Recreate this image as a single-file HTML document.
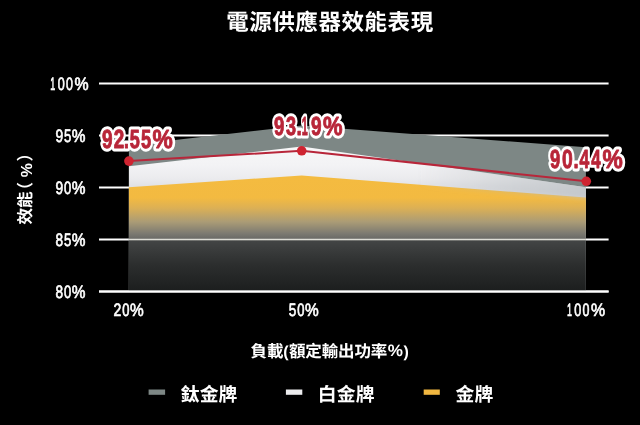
<!DOCTYPE html>
<html lang="zh-Hant">
<head>
<meta charset="utf-8">
<title>電源供應器效能表現</title>
<style>
html,body{margin:0;padding:0;background:#000;}
body{width:640px;height:425px;position:relative;overflow:hidden;font-family:"Liberation Sans",sans-serif;}
.t{position:absolute;color:transparent;white-space:nowrap;font-family:"Liberation Sans",sans-serif;font-weight:bold;line-height:1;margin:0;overflow:hidden;}
</style>
</head>
<body>
<svg width="640" height="425" viewBox="0 0 640 425" style="position:absolute;left:0;top:0;will-change:transform;text-rendering:geometricPrecision">
<defs>
<linearGradient id="gGold" gradientUnits="userSpaceOnUse" x1="0" y1="176" x2="0" y2="291">
<stop offset="0" stop-color="#f4bb40"/>
<stop offset="0.19" stop-color="#f3ba41"/>
<stop offset="0.278" stop-color="#dcb055"/>
<stop offset="0.40" stop-color="#aa9b76"/>
<stop offset="0.50" stop-color="#7c7a71"/>
<stop offset="0.545" stop-color="#6a6a66"/>
<stop offset="0.568" stop-color="#424444"/>
<stop offset="0.771" stop-color="#2c2e2e"/>
<stop offset="1" stop-color="#1c1e1e"/>
</linearGradient>
<linearGradient id="gWhite" gradientUnits="userSpaceOnUse" x1="0" y1="146" x2="0" y2="200">
<stop offset="0" stop-color="#f7f7f8"/>
<stop offset="0.35" stop-color="#f3f3f5"/>
<stop offset="0.6" stop-color="#ebebee"/>
<stop offset="0.78" stop-color="#dedfe3"/>
<stop offset="1" stop-color="#cfd1d6"/>
</linearGradient>
<linearGradient id="gWhiteSh" gradientUnits="userSpaceOnUse" x1="420" y1="0" x2="590" y2="0">
<stop offset="0" stop-color="#b4babd" stop-opacity="0"/>
<stop offset="0.5" stop-color="#b4babd" stop-opacity="0.35"/>
<stop offset="1" stop-color="#bcc1c4" stop-opacity="0.72"/>
</linearGradient>
<filter id="fBlur" x="-10%" y="-50%" width="120%" height="200%"><feGaussianBlur stdDeviation="2.6"/></filter>
</defs>
<rect width="640" height="425" fill="#000"/>
<line x1="99.0" x2="608.6" y1="83.50" y2="83.50" stroke="#fff" stroke-width="2"/>
<line x1="99.0" x2="608.6" y1="135.50" y2="135.50" stroke="#fff" stroke-width="2"/>
<line x1="99.0" x2="608.6" y1="187.50" y2="187.50" stroke="#fff" stroke-width="2"/>
<line x1="99.0" x2="608.6" y1="239.50" y2="239.50" stroke="#fff" stroke-width="2"/>
<line x1="99.0" x2="608.6" y1="291.50" y2="291.50" stroke="#fff" stroke-width="2"/>
<polygon points="128.9,145.3 301.7,125.6 585.9,147.2 585.9,290.60 128.9,290.60" fill="#7d8785"/>
<polygon points="128.9,166.3 301.7,146.5 585.9,187.2 585.9,290.60 128.9,290.60" fill="url(#gWhite)"/>
<polygon points="128.9,187.3 301.7,175.5 585.9,197.6 585.9,290.60 128.9,290.60" fill="url(#gGold)"/>
<clipPath id="cW"><polygon points="128.9,166.3 301.7,146.5 585.9,187.2 585.9,290.60 128.9,290.60"/></clipPath>
<g clip-path="url(#cW)"><polygon filter="url(#fBlur)" points="301.7,140.50 597.9,181.20 597.9,199.10 301.7,177.00" fill="url(#gWhiteSh)"/></g>
<line x1="128.9" x2="585.9" y1="239.50" y2="239.50" stroke="#deded6" stroke-width="1.7"/>
<line x1="99.0" x2="608.6" y1="291.50" y2="291.50" stroke="#fff" stroke-width="2.1"/>
<polyline points="128.9,161.1 301.7,150.8 586.3,181.3" fill="none" stroke="#b8263a" stroke-width="2"/>
<circle cx="128.9" cy="161.1" r="4.8" fill="#cf2431"/>
<circle cx="301.7" cy="150.8" r="4.8" fill="#cf2431"/>
<circle cx="586.3" cy="181.3" r="4.8" fill="#cf2431"/>
<text x="226.15" y="30.10" font-family="'Liberation Sans', 'Noto Sans CJK TC', sans-serif" font-size="22.5" font-weight="bold" fill="#fff" textLength="207" lengthAdjust="spacing">電源供應器效能表現</text>
<text x="250.40" y="356.70" font-family="'Liberation Sans', 'Noto Sans CJK TC', sans-serif" font-size="16.5" font-weight="bold" fill="#fff">負載</text>
<text x="283.2" y="356.70" font-family="'Liberation Sans', 'Noto Sans CJK TC', sans-serif" font-size="16" font-weight="bold" fill="#fff">(</text>
<text x="288.90" y="356.70" font-family="'Liberation Sans', 'Noto Sans CJK TC', sans-serif" font-size="16.5" font-weight="bold" fill="#fff" textLength="98.4" lengthAdjust="spacing">額定輸出功率</text>
<text x="387.80" y="356.40" font-family="'Liberation Sans', 'Noto Sans CJK TC', sans-serif" font-size="16.5" font-weight="bold" fill="#fff" textLength="15.2" lengthAdjust="spacingAndGlyphs">%</text>
<text x="403.60" y="356.70" font-family="'Liberation Sans', 'Noto Sans CJK TC', sans-serif" font-size="16" font-weight="bold" fill="#fff">)</text>
<text x="180.70" y="401.00" font-family="'Liberation Sans', 'Noto Sans CJK TC', sans-serif" font-size="18.8" font-weight="bold" fill="#fff" textLength="56.7" lengthAdjust="spacing">鈦金牌</text>
<text x="317.80" y="401.00" font-family="'Liberation Sans', 'Noto Sans CJK TC', sans-serif" font-size="18.8" font-weight="bold" fill="#fff" textLength="56.7" lengthAdjust="spacing">白金牌</text>
<text x="455.50" y="401.00" font-family="'Liberation Sans', 'Noto Sans CJK TC', sans-serif" font-size="18.8" font-weight="bold" fill="#fff" textLength="37.8" lengthAdjust="spacing">金牌</text>
<g transform="translate(31.4 224.6) rotate(-90)">
<text x="0" y="0" font-family="'Liberation Sans', 'Noto Sans CJK TC', sans-serif" font-size="16.6" font-weight="bold" fill="#fff">效能</text>
<text x="26.2" y="0" font-family="'Liberation Sans', 'Noto Sans CJK TC', sans-serif" font-size="16.6" font-weight="bold" fill="#fff">（</text>
<text x="47.3" y="0.2" font-family="'Liberation Sans', 'Noto Sans CJK TC', sans-serif" font-size="16" font-weight="bold" fill="#fff" textLength="14.2" lengthAdjust="spacingAndGlyphs">%</text>
<text x="63" y="0" font-family="'Liberation Sans', 'Noto Sans CJK TC', sans-serif" font-size="16.6" font-weight="bold" fill="#fff">）</text>
</g>
<rect x="148.6" y="389.5" width="16.5" height="5.3" fill="#7d8785"/>
<rect x="285.9" y="389.5" width="16.4" height="5.3" fill="#ececee"/>
<rect x="423.7" y="389.5" width="16.1" height="5.3" fill="#f1b741"/>
<text y="90.10" font-family="Liberation Sans, sans-serif" font-size="18.0" font-weight="normal" fill="#fff" stroke="#fff" stroke-width="0.7" stroke-linejoin="round" paint-order="stroke"><tspan x="50.36" textLength="5.03" lengthAdjust="spacingAndGlyphs">1</tspan><tspan x="57.66" textLength="6.98" lengthAdjust="spacingAndGlyphs">0</tspan><tspan x="65.91" textLength="6.92" lengthAdjust="spacingAndGlyphs">0</tspan><tspan x="74.48" textLength="14.13" lengthAdjust="spacingAndGlyphs">%</tspan></text>
<text y="142.00" font-family="Liberation Sans, sans-serif" font-size="18.0" font-weight="normal" fill="#fff" stroke="#fff" stroke-width="0.7" stroke-linejoin="round" paint-order="stroke"><tspan x="55.40" textLength="7.71" lengthAdjust="spacingAndGlyphs">9</tspan><tspan x="64.03" textLength="7.27" lengthAdjust="spacingAndGlyphs">5</tspan><tspan x="71.70" textLength="13.70" lengthAdjust="spacingAndGlyphs">%</tspan></text>
<text y="194.00" font-family="Liberation Sans, sans-serif" font-size="18.0" font-weight="normal" fill="#fff" stroke="#fff" stroke-width="0.7" stroke-linejoin="round" paint-order="stroke"><tspan x="55.40" textLength="7.71" lengthAdjust="spacingAndGlyphs">9</tspan><tspan x="64.04" textLength="7.21" lengthAdjust="spacingAndGlyphs">0</tspan><tspan x="71.70" textLength="13.70" lengthAdjust="spacingAndGlyphs">%</tspan></text>
<text y="246.00" font-family="Liberation Sans, sans-serif" font-size="18.0" font-weight="normal" fill="#fff" stroke="#fff" stroke-width="0.7" stroke-linejoin="round" paint-order="stroke"><tspan x="55.46" textLength="7.59" lengthAdjust="spacingAndGlyphs">8</tspan><tspan x="64.03" textLength="7.27" lengthAdjust="spacingAndGlyphs">5</tspan><tspan x="71.70" textLength="13.70" lengthAdjust="spacingAndGlyphs">%</tspan></text>
<text y="298.00" font-family="Liberation Sans, sans-serif" font-size="18.0" font-weight="normal" fill="#fff" stroke="#fff" stroke-width="0.7" stroke-linejoin="round" paint-order="stroke"><tspan x="55.46" textLength="7.59" lengthAdjust="spacingAndGlyphs">8</tspan><tspan x="64.04" textLength="7.21" lengthAdjust="spacingAndGlyphs">0</tspan><tspan x="71.70" textLength="13.70" lengthAdjust="spacingAndGlyphs">%</tspan></text>
<text y="316.15" font-family="Liberation Sans, sans-serif" font-size="18.0" font-weight="normal" fill="#fff" stroke="#fff" stroke-width="0.7" stroke-linejoin="round" paint-order="stroke"><tspan x="113.54" textLength="7.81" lengthAdjust="spacingAndGlyphs">2</tspan><tspan x="122.24" textLength="7.21" lengthAdjust="spacingAndGlyphs">0</tspan><tspan x="129.90" textLength="13.70" lengthAdjust="spacingAndGlyphs">%</tspan></text>
<text y="316.15" font-family="Liberation Sans, sans-serif" font-size="18.0" font-weight="normal" fill="#fff" stroke="#fff" stroke-width="0.7" stroke-linejoin="round" paint-order="stroke"><tspan x="288.71" textLength="7.51" lengthAdjust="spacingAndGlyphs">5</tspan><tspan x="297.24" textLength="7.21" lengthAdjust="spacingAndGlyphs">0</tspan><tspan x="304.90" textLength="13.70" lengthAdjust="spacingAndGlyphs">%</tspan></text>
<text y="316.15" font-family="Liberation Sans, sans-serif" font-size="18.0" font-weight="normal" fill="#fff" stroke="#fff" stroke-width="0.7" stroke-linejoin="round" paint-order="stroke"><tspan x="566.96" textLength="5.03" lengthAdjust="spacingAndGlyphs">1</tspan><tspan x="574.26" textLength="6.98" lengthAdjust="spacingAndGlyphs">0</tspan><tspan x="582.51" textLength="6.92" lengthAdjust="spacingAndGlyphs">0</tspan><tspan x="591.08" textLength="14.13" lengthAdjust="spacingAndGlyphs">%</tspan></text>
<text y="147.95" font-family="Liberation Sans, sans-serif" font-size="26.3" font-weight="bold" fill="#fff" stroke="#fff" stroke-width="7.0" stroke-linejoin="round" paint-order="stroke" aria-hidden="true"><tspan x="101.99" textLength="10.56" lengthAdjust="spacingAndGlyphs">9</tspan><tspan x="113.69" textLength="10.51" lengthAdjust="spacingAndGlyphs">2</tspan><tspan x="124.05" textLength="4.92" lengthAdjust="spacingAndGlyphs">.</tspan><tspan x="129.79" textLength="10.06" lengthAdjust="spacingAndGlyphs">5</tspan><tspan x="140.89" textLength="10.17" lengthAdjust="spacingAndGlyphs">5</tspan><tspan x="152.48" textLength="20.27" lengthAdjust="spacingAndGlyphs">%</tspan></text><text y="147.95" font-family="Liberation Sans, sans-serif" font-size="26.3" font-weight="bold" fill="#b82538" stroke="#b82538" stroke-width="0.9" stroke-linejoin="round" paint-order="stroke"><tspan x="101.99" textLength="10.56" lengthAdjust="spacingAndGlyphs">9</tspan><tspan x="113.69" textLength="10.51" lengthAdjust="spacingAndGlyphs">2</tspan><tspan x="124.05" textLength="4.92" lengthAdjust="spacingAndGlyphs">.</tspan><tspan x="129.79" textLength="10.06" lengthAdjust="spacingAndGlyphs">5</tspan><tspan x="140.89" textLength="10.17" lengthAdjust="spacingAndGlyphs">5</tspan><tspan x="152.48" textLength="20.27" lengthAdjust="spacingAndGlyphs">%</tspan></text>
<text y="134.85" font-family="Liberation Sans, sans-serif" font-size="26.3" font-weight="bold" fill="#fff" stroke="#fff" stroke-width="7.0" stroke-linejoin="round" paint-order="stroke" aria-hidden="true"><tspan x="274.11" textLength="10.33" lengthAdjust="spacingAndGlyphs">9</tspan><tspan x="285.93" textLength="10.07" lengthAdjust="spacingAndGlyphs">3</tspan><tspan x="296.45" textLength="5.32" lengthAdjust="spacingAndGlyphs">.</tspan><tspan x="301.87" textLength="5.98" lengthAdjust="spacingAndGlyphs">1</tspan><tspan x="310.99" textLength="10.56" lengthAdjust="spacingAndGlyphs">9</tspan><tspan x="323.10" textLength="19.53" lengthAdjust="spacingAndGlyphs">%</tspan></text><text y="134.85" font-family="Liberation Sans, sans-serif" font-size="26.3" font-weight="bold" fill="#b82538" stroke="#b82538" stroke-width="0.9" stroke-linejoin="round" paint-order="stroke"><tspan x="274.11" textLength="10.33" lengthAdjust="spacingAndGlyphs">9</tspan><tspan x="285.93" textLength="10.07" lengthAdjust="spacingAndGlyphs">3</tspan><tspan x="296.45" textLength="5.32" lengthAdjust="spacingAndGlyphs">.</tspan><tspan x="301.87" textLength="5.98" lengthAdjust="spacingAndGlyphs">1</tspan><tspan x="310.99" textLength="10.56" lengthAdjust="spacingAndGlyphs">9</tspan><tspan x="323.10" textLength="19.53" lengthAdjust="spacingAndGlyphs">%</tspan></text>
<text y="167.75" font-family="Liberation Sans, sans-serif" font-size="26.3" font-weight="bold" fill="#fff" stroke="#fff" stroke-width="7.0" stroke-linejoin="round" paint-order="stroke" aria-hidden="true"><tspan x="550.01" textLength="10.22" lengthAdjust="spacingAndGlyphs">9</tspan><tspan x="561.88" textLength="10.76" lengthAdjust="spacingAndGlyphs">0</tspan><tspan x="573.40" textLength="5.12" lengthAdjust="spacingAndGlyphs">.</tspan><tspan x="579.58" textLength="9.76" lengthAdjust="spacingAndGlyphs">4</tspan><tspan x="591.19" textLength="9.45" lengthAdjust="spacingAndGlyphs">4</tspan><tspan x="602.38" textLength="20.27" lengthAdjust="spacingAndGlyphs">%</tspan></text><text y="167.75" font-family="Liberation Sans, sans-serif" font-size="26.3" font-weight="bold" fill="#b82538" stroke="#b82538" stroke-width="0.9" stroke-linejoin="round" paint-order="stroke"><tspan x="550.01" textLength="10.22" lengthAdjust="spacingAndGlyphs">9</tspan><tspan x="561.88" textLength="10.76" lengthAdjust="spacingAndGlyphs">0</tspan><tspan x="573.40" textLength="5.12" lengthAdjust="spacingAndGlyphs">.</tspan><tspan x="579.58" textLength="9.76" lengthAdjust="spacingAndGlyphs">4</tspan><tspan x="591.19" textLength="9.45" lengthAdjust="spacingAndGlyphs">4</tspan><tspan x="602.38" textLength="20.27" lengthAdjust="spacingAndGlyphs">%</tspan></text>
</svg>
<h1 class="t" style="left:226px;top:10px;font-size:22px;width:207px;height:23px">電源供應器效能表現</h1>
<div class="t" style="left:251px;top:342px;font-size:16px;width:158px;height:18px">負載(額定輸出功率%)</div>
<div class="t" style="left:16px;top:180px;font-size:16px;width:18px;height:18px">效能（%）</div>
<div class="t" style="left:180px;top:384px;font-size:19px;width:57px;height:20px">鈦金牌</div>
<div class="t" style="left:318px;top:384px;font-size:19px;width:57px;height:20px">白金牌</div>
<div class="t" style="left:456px;top:384px;font-size:19px;width:38px;height:20px">金牌</div>
</body>
</html>
